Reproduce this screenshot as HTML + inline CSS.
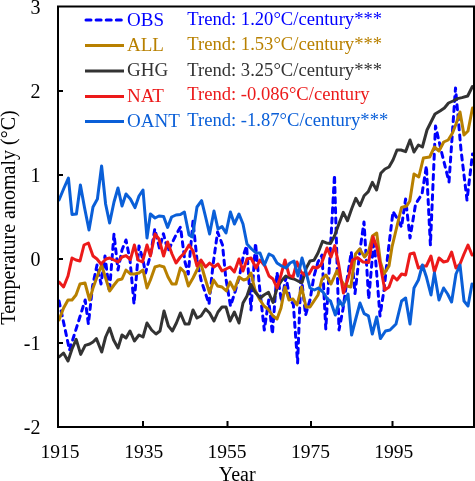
<!DOCTYPE html>
<html><head><meta charset="utf-8"><style>
html,body{margin:0;padding:0;background:#fff;}
svg{display:block;will-change:transform;}
text{font-family:"Liberation Serif",serif;}
</style></head><body>
<svg width="475" height="481" viewBox="0 0 475 481">
<rect width="475" height="481" fill="#fff"/>
<polyline points="59,301 69.5,350 85.2,300 88.4,324 92.6,286 97,265 101,284 105,256 109.4,292 114,234 118,270 122,250 126,240 130,260 134,304 139,246 143,260 145.5,273 150.5,255 154.8,229 159.5,248.5 163.4,233.7 168,251 172.5,242 176.5,234 180.5,227 185,262 188.3,274 193,221 197,260 201,280 205,292 209,304 213,265 217.6,232 222.5,245 225.8,278 230.5,306 235,292 239.5,276 243.5,255 246.6,246 251,310 255.5,243 259.5,287 264.3,330 268.7,300 272.4,334 277,272.5 281.6,302 286,277 290,300 293.3,304 297.6,363 301,274 305.6,315 310,300 314,276 318,262 322,255 325.8,329 330.2,252 334.5,175 339,330 343,309 347,280 351.3,252 355,293.6 360,250 364,222 368.7,299 374,239 380,316 384,290 388,253 393,211.7 397,218 401.5,227 405.6,199 410,238 415.6,204 422,194 426.4,166 430.4,245 435.5,126 442,154 449,182 455.5,88 461,150 467,200 472.5,154" fill="none" stroke="#0000FF" stroke-width="3" stroke-linejoin="round" stroke-linecap="round" stroke-dasharray="5 5.1"/>
<polyline points="59,320 63.6,308 68,300 72,300 76,295 80,284 85,283 89.6,300 93,288 97,277 101.6,265 105.6,278 109.6,291 114,285 118,280 122,279 126,270 130.4,274 134.4,274 139,273 143,270 147,288 150.4,280 155,267 159.6,265.6 164,267 168,277 172,284 176,284 180.4,268 184.4,272 188.4,286 193,278 197,270 200.4,262 205,278 209.6,293 213.6,280 217.6,286 222,287 226.4,291 230,282 234.4,290 239,277 243.6,280 247,279 251,273 255,290 260,300 264,306 268,309 273,316 277,319 281,308 285,287 289,300 293,299 297,305 301.6,287 306,307 310,307 314,301 318,295 322,279 326,275 331,284 337,270.6 341,280 344.3,285 350.8,287 355.5,254 359.7,249 364.5,257 368.6,251.5 372.4,236 376.7,233 380.4,262 384,274 389,266 392,247 397,226 401.5,207.5 406.7,206 409.8,201 414,174 418.8,177 423.4,158 429.7,157 434.4,147 439,151 443.7,142 448.2,140 452.5,133 456,124 460,112 464,135 468,131 472.5,108" fill="none" stroke="#B88000" stroke-width="3" stroke-linejoin="round" stroke-linecap="round"/>
<polyline points="59,357 63.5,353 68,361 72,349 76.2,339.4 80.7,354.4 85.2,345.4 89.7,344 93,342 96.4,338.6 101.7,352 105.6,337 109.6,328 113.6,340 118,348 122,335 126,338 130,331 134.4,341 139,335 143,337 147,323 151.6,330 156,334 160,331 164,311 168.4,326 172.4,331 176.4,323 180.4,313 185,324 189,324 193,310 197,318 201,316 205.6,309 209.6,313 214,321 218,312 222,307 226,307 230,321 234.4,312 239,323 243,303 247,296 250.8,284.5 255,292 260.3,298 264,295 268.5,292.3 273,302.5 277.2,287.5 281.3,281 285.8,276 290,278 294,279 298,281 302,282.5 306.3,268 310,261 314,260.3 318,253 322.6,241.3 326.3,242.9 330.5,243.4 334.5,236 338.5,225 343.3,212.4 347.5,220.7 351.6,209 355.8,198.3 360,205.7 364.1,195.8 368.3,191.6 372.4,182.4 376.6,190 380.8,173.3 385,169 389,167 393,160 397,150 401,150 405.6,151.6 410,140 414,152 418.4,145 422.4,147 427,130 431,122 435,114 440,111 444.4,108 448.5,103 453,101 457.5,98.6 461.9,97.6 467.7,96 472.4,86.5" fill="none" stroke="#333333" stroke-width="3" stroke-linejoin="round" stroke-linecap="round"/>
<polyline points="59,282 63.6,287 68,276 72,258 76,260 80,261 84,245 88.4,243 93,256 97,259 101,264 106,259 109.6,258 114,260 118,262 122,257 126,255.6 130.4,259.6 134.4,245 138,260 142.4,262 147,245 150.4,256 155,234 159,239 163.6,256 167.6,242 172,254 176,263 180.4,257 184.4,253 189,245 193,251 197,266 201,260 205.6,267 209.6,263 214,267 218,264 222,271 226,269 230,267 234.4,272 239,259 243,271 247,259 251,258 256,268 260,260 265,266 269,276 273,279 277,288 281,275 285,260 289,275 293,277 297,262 301,272 305,275 309,274 313,267 317,268 321,265 327,248 331,257 334.7,245.6 338.4,263 343.4,293 348.7,276.5 352.4,260 357.6,257.6 363,262 368.6,262.6 373,236.8 377,248 380.3,265 384.8,290 389,287 393,276 397,280 401.6,274 405.6,275 410,254 414,253 418.4,268 422.4,266 426.4,266 431,256 434.4,272 439,258 443.6,262 447.6,261 451.6,252 456,268 460,264 464,254 468,245 472,255" fill="none" stroke="#EC1A1A" stroke-width="3" stroke-linejoin="round" stroke-linecap="round"/>
<polyline points="59,200 64,188 68.4,178 72,214.4 76.4,214 80.4,185 84.6,208 89,230 93,207 97.4,199 101.6,166 105.6,204 109.6,223 114,202 118,188 122,206 126,194 130.4,199 135,207.6 139,196 143,190 147,238 150.4,214 155,218 159,216 163.6,216.6 167.6,227.4 171.6,217 176,215 180.4,214.6 184.4,212 189,235 192.4,237 197,207 201.6,200.6 205.6,217 209.6,234 214,211 218,229 222,226.6 226,233 230.4,212 234.4,224 239,214 243,224 247,244 251.6,249 256,253 260,253 264.4,265 269,254 273,256 277,263 281.6,266 286,268 290,263 294,261 298,276 302,258 306,272 310,288 314.4,290 318.4,288 323,292 327.4,299 330.5,301 335.3,315 339.5,300.5 342.6,305.8 348,294 351.6,335 356,318 360,303 364.2,313.7 368.4,315.8 372.3,334 376.7,317 380.4,338.6 385.5,331 390,330 396,324 401.6,301 405.6,298 410,324 414,288 418.4,280 422.4,265 426.4,277 431,295 434.4,273 439,300 443.6,288 447.6,294 451.6,302 456,274 460,265 464,301 468,306 472,284" fill="none" stroke="#0A5FD8" stroke-width="3" stroke-linejoin="round" stroke-linecap="round"/>
<g stroke="#000" stroke-width="2" fill="none">
<path d="M58,6.5 H474 V427 H58 Z" stroke-linejoin="miter"/>
<path d="M58,91 H63 M58,175 H63 M58,259 H63 M58,343 H63"/>
<path d="M143,427 V421 M227.5,427 V421 M311,427 V421 M392.5,427 V421"/>
</g>
<g font-size="20" fill="#000" text-anchor="end">
<text x="40.5" y="14">3</text>
<text x="40.5" y="97.5">2</text>
<text x="40.5" y="181.5">1</text>
<text x="40.5" y="265.5">0</text>
<text x="40.5" y="349.5">-1</text>
<text x="40.5" y="434">-2</text>
</g>
<g font-size="19.5" fill="#000" text-anchor="middle">
<text x="60" y="458">1915</text>
<text x="143.7" y="458">1935</text>
<text x="227" y="458">1955</text>
<text x="310.5" y="458">1975</text>
<text x="393.7" y="458">1995</text>
</g>
<text font-size="20" fill="#000" text-anchor="middle" x="237.2" y="480.5">Year</text>
<text font-size="20" fill="#000" text-anchor="middle" transform="translate(15,217.5) rotate(-90)">Temperature anomaly (°C)</text>
<g stroke-width="3" fill="none">
<line x1="86" y1="20" x2="122" y2="20" stroke="#0000FF" stroke-dasharray="5 5.1" stroke-linecap="round"/>
<line x1="85" y1="45.5" x2="124" y2="45.5" stroke="#B88000"/>
<line x1="85" y1="71" x2="124" y2="71" stroke="#333333"/>
<line x1="85" y1="96.5" x2="124" y2="96.5" stroke="#EC1A1A"/>
<line x1="85" y1="121.5" x2="124" y2="121.5" stroke="#0A5FD8"/>
</g>
<g font-size="19">
<text x="127" y="25.6" fill="#0000FF">OBS</text>
<text x="127" y="51" fill="#B88000">ALL</text>
<text x="127" y="76.2" fill="#333333">GHG</text>
<text x="127" y="101.6" fill="#EC1A1A">NAT</text>
<text x="127" y="126.8" fill="#0A5FD8">OANT</text>
</g>
<g font-size="18.6">
<text x="187.3" y="25.2" fill="#0000FF">Trend: 1.20°C/century***</text>
<text x="187.3" y="50" fill="#B88000">Trend: 1.53°C/century***</text>
<text x="187.3" y="75.5" fill="#333333">Trend: 3.25°C/century***</text>
<text x="187.3" y="99.8" fill="#EC1A1A">Trend: -0.086°C/century</text>
<text x="187.3" y="126" fill="#0A5FD8">Trend: -1.87°C/century***</text>
</g>
</svg>
</body></html>
